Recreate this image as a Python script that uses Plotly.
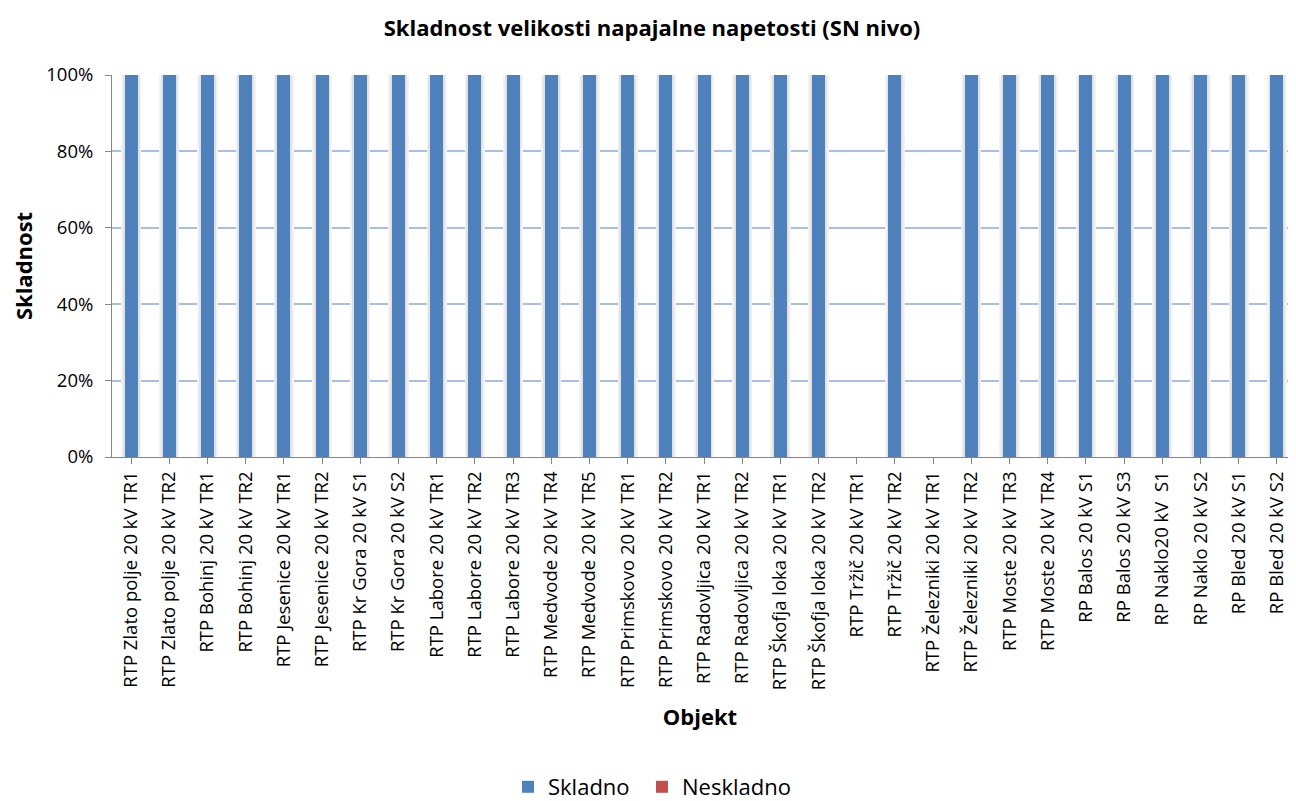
import plotly.graph_objects as go

categories = [
    "RTP Zlato polje 20 kV TR1", "RTP Zlato polje 20 kV TR2",
    "RTP Bohinj 20 kV TR1", "RTP Bohinj 20 kV TR2",
    "RTP Jesenice 20 kV TR1", "RTP Jesenice 20 kV TR2",
    "RTP Kr Gora 20 kV S1", "RTP Kr Gora 20 kV S2",
    "RTP Labore 20 kV TR1", "RTP Labore 20 kV TR2", "RTP Labore 20 kV TR3",
    "RTP Medvode 20 kV TR4", "RTP Medvode 20 kV TR5",
    "RTP Primskovo 20 kV TR1", "RTP Primskovo 20 kV TR2",
    "RTP Radovljica 20 kV TR1", "RTP Radovljica 20 kV TR2",
    "RTP Škofja loka 20 kV TR1", "RTP Škofja loka 20 kV TR2",
    "RTP Tržič 20 kV TR1", "RTP Tržič 20 kV TR2",
    "RTP Železniki 20 kV TR1", "RTP Železniki 20 kV TR2",
    "RTP Moste 20 kV TR3", "RTP Moste 20 kV TR4",
    "RP Balos 20 kV S1", "RP Balos 20 kV S3",
    "RP Naklo20 kV  S1", "RP Naklo 20 kV S2",
    "RP Bled 20 kV S1", "RP Bled 20 kV S2",
]

skladno = [1.0] * 19 + [None, 1.0, None] + [1.0] * 9
neskladno = [0.0] * 19 + [None, 0.0, None] + [0.0] * 9

FONT = "Open Sans"
x_idx = list(range(len(categories)))
zero_base = [0] * len(categories)

fig = go.Figure()
# soft shadow behind the bars (drawn in overlay because base is set)
fig.add_trace(go.Bar(x=x_idx, y=skladno, base=zero_base, width=0.53,
                     marker=dict(color="#F3F3F3", line=dict(width=0)),
                     showlegend=False, hoverinfo="skip"))
fig.add_trace(go.Bar(x=x_idx, y=skladno, base=zero_base, width=0.44,
                     marker=dict(color="#E2E2E2", line=dict(width=0)),
                     showlegend=False, hoverinfo="skip"))
fig.add_trace(go.Bar(x=x_idx, y=skladno, name="Skladno", legend="legend",
                     marker=dict(color="#4F81BD", line=dict(width=0)), width=0.34))
fig.add_trace(go.Bar(x=x_idx, y=neskladno, name="Neskladno", legend="legend2",
                     marker=dict(color="#C0504D", line=dict(width=0)), width=0.34))

# page body has an 8px margin, so the figure is smaller and margins compensate
W, H = 1288, 793
LEG_Y = (793 - 2 - 787 + 8) / H  # legend centre at page y ~787

fig.update_layout(
    barmode="stack",
    width=W, height=H,
    paper_bgcolor="white", plot_bgcolor="white",
    margin=dict(l=104, r=8, t=67, b=344, autoexpand=False),
    font=dict(family=FONT, color="black", size=18),
    title=dict(text="<b>Skladnost velikosti napajalne napetosti (SN nivo)</b>",
               x=0.5, xanchor="center", y=1 - 20 / H, yanchor="middle",
               font=dict(size=22, family=FONT)),
    legend=dict(orientation="h", xref="container", yref="container",
                x=(508 - 8) / W, xanchor="left", y=(H - 779) / H, yanchor="middle",
                font=dict(size=22, family=FONT), itemwidth=30),
    legend2=dict(orientation="h", xref="container", yref="container",
                 x=(642 - 8) / W, xanchor="left", y=(H - 779) / H, yanchor="middle",
                 font=dict(size=22, family=FONT), itemwidth=30),
    showlegend=True,
)

fig.update_xaxes(
    tickmode="array", tickvals=x_idx, ticktext=categories,
    tickangle=-90, range=[-0.5, 30.29], automargin=False,
    ticklabeloverflow="allow",
    showline=True, linecolor="#868686", linewidth=1,
    ticks="outside", ticklen=6, tickcolor="#868686", tickson="boundaries",
    showgrid=False, tickfont=dict(size=18.5, family=FONT),
    title=dict(text="<b>Objekt</b>", font=dict(size=22, family=FONT), standoff=20),
)
fig.update_yaxes(
    range=[0, 1], tickformat=".0%", dtick=0.2, automargin=False,
    showline=True, linecolor="#868686", linewidth=1,
    ticks="outside", ticklen=6, tickcolor="#868686", ticklabelstandoff=8,
    showgrid=True, gridcolor="#A7BFE3", gridwidth=2,
    zeroline=False, tickfont=dict(size=18.5, family=FONT),
    title=dict(text="<b>Skladnost</b>", font=dict(size=22, family=FONT), standoff=17),
)

fig.write_html("out.html")
